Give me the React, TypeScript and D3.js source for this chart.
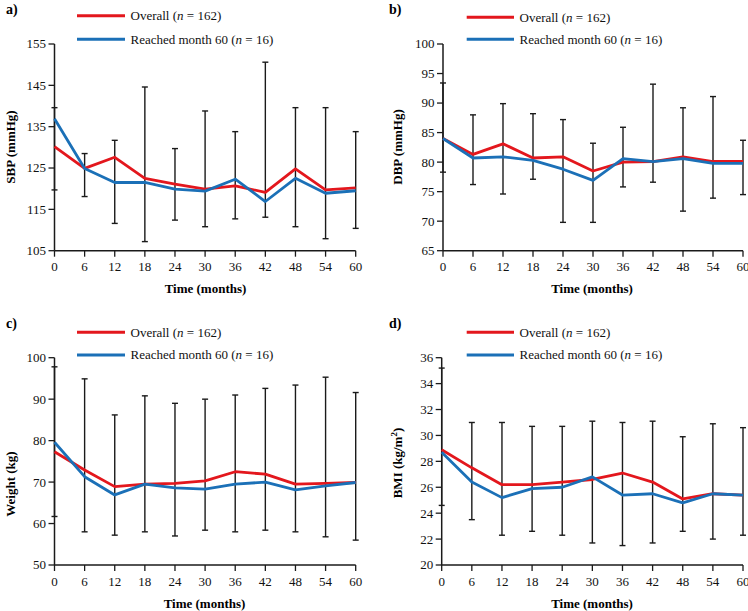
import React from "react";
import * as d3 from "d3";

const months = [0, 6, 12, 18, 24, 30, 36, 42, 48, 54, 60];

// Panel a: SBP
const sbpOverall = [130.2, 124.9, 127.6, 122.5, 121.1, 119.9, 120.7, 119.1, 124.8, 119.7, 120.2];
const sbpReached = [136.9, 124.9, 121.5, 121.5, 119.9, 119.4, 122.3, 116.9, 122.5, 118.9, 119.5];
const sbpHi = [139.6, 128.5, 131.7, 144.6, 129.7, 138.8, 133.8, 150.6, 139.6, 139.6, 133.8];
const sbpLo = [119.7, 118.1, 111.6, 107.2, 112.4, 110.8, 112.7, 113.1, 110.8, 107.9, 110.4];
const sbpTicks = [105, 115, 125, 135, 145, 155];

// Panel b: DBP
const dbpOverall = [84.0, 81.3, 83.1, 80.7, 80.9, 78.5, 80.0, 80.1, 80.9, 80.1, 80.1];
const dbpReached = [84.0, 80.7, 80.9, 80.3, 78.8, 76.9, 80.6, 80.1, 80.6, 79.8, 79.8];
const dbpHi = [93.4, 88.0, 89.9, 88.2, 87.2, 83.2, 85.9, 93.2, 89.2, 91.1, 83.7];
const dbpLo = [78.3, 76.2, 74.6, 77.1, 69.8, 69.8, 75.8, 76.6, 71.7, 73.9, 74.5];
const dbpTicks = [65, 70, 75, 80, 85, 90, 95, 100];

// Panel c: Weight
const wtOverall = [77.3, 72.9, 68.9, 69.5, 69.7, 70.3, 72.5, 71.9, 69.5, 69.7, 69.9];
const wtReached = [79.6, 71.3, 66.9, 69.5, 68.6, 68.3, 69.5, 70.0, 68.1, 69.1, 69.9];
const wtHi = [97.8, 94.9, 86.2, 90.8, 89.0, 90.0, 91.0, 92.6, 93.4, 95.3, 91.6];
const wtLo = [61.7, 58.0, 57.2, 58.0, 57.0, 58.4, 58.0, 58.4, 58.0, 56.8, 56.0];
const wtTicks = [50, 60, 70, 80, 90, 100];

// Panel d: BMI
const bmiOverall = [28.9, 27.5, 26.2, 26.2, 26.4, 26.6, 27.1, 26.4, 25.1, 25.5, 25.4];
const bmiReached = [28.7, 26.4, 25.2, 25.9, 26.0, 26.8, 25.4, 25.5, 24.8, 25.5, 25.4];
const bmiHi = [35.2, 31.0, 31.0, 30.7, 30.7, 31.1, 31.0, 31.1, 29.9, 30.9, 30.6];
const bmiLo = [24.6, 23.5, 22.3, 22.6, 22.3, 21.7, 21.5, 21.7, 22.6, 22.0, 22.3];
const bmiTicks = [20, 22, 24, 26, 28, 30, 32, 34, 36];

const RED = "#e3171d";
const BLUE = "#1b70b7";
const INK = "#1a1a1a";
const FONT = "'Liberation Serif', 'Times New Roman', serif";

type PanelProps = {
  tag: string;
  tagX: number;
  tagY: number;
  x0: number;
  x1: number;
  yTop: number;
  yBot: number;
  domain: [number, number];
  ticks: number[];
  overall: number[];
  reached: number[];
  hi: number[];
  lo: number[];
  yLabel: React.ReactNode;
  yLabelX: number;
  yLabelY: number;
  titleX: number;
  titleY: number;
  legX0: number;
  legX1: number;
  legY1: number;
  legY2: number;
};

function Panel(p: PanelProps) {
  const x = d3.scaleLinear().domain([0, 60]).range([p.x0, p.x1]);
  const y = d3.scaleLinear().domain(p.domain).range([p.yBot, p.yTop]);
  const line = d3
    .line<number>()
    .x((_, i) => x(months[i]))
    .y((v) => y(v));
  return (
    <g fontFamily={FONT}>
      <text x={p.tagX} y={p.tagY} fontSize={14} fontWeight="bold" fill="#000">
        {p.tag}
      </text>
      {/* error bars */}
      {months.map((m, i) => (
        <g key={"e" + m} stroke={INK} strokeWidth={1.4}>
          <line x1={x(m)} x2={x(m)} y1={y(p.hi[i])} y2={y(p.lo[i])} />
          <line x1={x(m) - 3} x2={x(m) + 3} y1={y(p.hi[i])} y2={y(p.hi[i])} />
          <line x1={x(m) - 3} x2={x(m) + 3} y1={y(p.lo[i])} y2={y(p.lo[i])} />
        </g>
      ))}
      {/* axes */}
      <line x1={p.x0} x2={p.x0} y1={p.yTop} y2={p.yBot} stroke={INK} strokeWidth={1.5} />
      <line x1={p.x0} x2={p.x1} y1={p.yBot} y2={p.yBot} stroke={INK} strokeWidth={1.5} />
      {p.ticks.map((t) => (
        <g key={"yt" + t}>
          <line x1={p.x0 - 6} x2={p.x0} y1={y(t)} y2={y(t)} stroke={INK} strokeWidth={1.3} />
          <text x={p.x0 - 8.5} y={y(t)} dy="0.34em" textAnchor="end" fontSize={13} fill="#111">
            {t}
          </text>
        </g>
      ))}
      {months.map((m) => (
        <g key={"xt" + m}>
          <line x1={x(m)} x2={x(m)} y1={p.yBot} y2={p.yBot + 6} stroke={INK} strokeWidth={1.3} />
          <text x={x(m)} y={p.yBot + 20.5} textAnchor="middle" fontSize={13} fill="#111">
            {m}
          </text>
        </g>
      ))}
      {/* series */}
      <path d={line(p.overall) || ""} fill="none" stroke={RED} strokeWidth={2.8} strokeLinejoin="round" />
      <path d={line(p.reached) || ""} fill="none" stroke={BLUE} strokeWidth={2.8} strokeLinejoin="round" />
      {/* titles */}
      <text
        transform={`translate(${p.yLabelX},${p.yLabelY}) rotate(-90)`}
        textAnchor="middle"
        dy="0.34em"
        fontSize={13}
        fontWeight="bold"
        fill="#000"
      >
        {p.yLabel}
      </text>
      <text x={p.titleX} y={p.titleY} dy="0.34em" textAnchor="middle" fontSize={13} fontWeight="bold" fill="#000">
        Time (months)
      </text>
      {/* legend */}
      <line x1={p.legX0} x2={p.legX1} y1={p.legY1} y2={p.legY1} stroke={RED} strokeWidth={3} />
      <line x1={p.legX0} x2={p.legX1} y1={p.legY2} y2={p.legY2} stroke={BLUE} strokeWidth={3} />
      <text x={p.legX1 + 5.5} y={p.legY1} dy="0.34em" fontSize={13} fill="#111">
        Overall (<tspan fontStyle="italic">n</tspan> = 162)
      </text>
      <text x={p.legX1 + 5.5} y={p.legY2} dy="0.34em" fontSize={13} fill="#111">
        Reached month 60 (<tspan fontStyle="italic">n</tspan> = 16)
      </text>
    </g>
  );
}

export default function App() {
  return (
    <svg
      width={748}
      height={611}
      style={{ position: "absolute", left: 0, top: 0, background: "#fff" }}
    >
      <rect width={748} height={611} fill="#fff" />
      <Panel
        tag="a)" tagX={6} tagY={13.5}
        x0={54.5} x1={355.7} yTop={44} yBot={250.7}
        domain={[105, 155]} ticks={sbpTicks}
        overall={sbpOverall} reached={sbpReached} hi={sbpHi} lo={sbpLo}
        yLabel="SBP (mmHg)" yLabelX={10.5} yLabelY={147}
        titleX={205.5} titleY={289}
        legX0={77} legX1={125} legY1={15.7} legY2={39.3}
      />
      <Panel
        tag="b)" tagX={389} tagY={13.5}
        x0={443} x1={743} yTop={44} yBot={250.7}
        domain={[65, 100]} ticks={dbpTicks}
        overall={dbpOverall} reached={dbpReached} hi={dbpHi} lo={dbpLo}
        yLabel="DBP (mmHg)" yLabelX={397.5} yLabelY={147}
        titleX={592} titleY={289}
        legX0={466.7} legX1={514} legY1={17.3} legY2={39.3}
      />
      <Panel
        tag="c)" tagX={6} tagY={327.5}
        x0={54.5} x1={355.7} yTop={357.7} yBot={565}
        domain={[50, 100]} ticks={wtTicks}
        overall={wtOverall} reached={wtReached} hi={wtHi} lo={wtLo}
        yLabel="Weight (kg)" yLabelX={10.5} yLabelY={484}
        titleX={204.5} titleY={603.3}
        legX0={77} legX1={125} legY1={332.3} legY2={355}
      />
      <Panel
        tag="d)" tagX={389} tagY={327.5}
        x0={441.7} x1={743} yTop={357.7} yBot={565}
        domain={[20, 36]} ticks={bmiTicks}
        overall={bmiOverall} reached={bmiReached} hi={bmiHi} lo={bmiLo}
        yLabel={<>BMI (kg/m<tspan baselineShift="super" fontSize={9}>2</tspan>)</>}
        yLabelX={397.5} yLabelY={463}
        titleX={592} titleY={603.3}
        legX0={466.7} legX1={514} legY1={332.3} legY2={355}
      />
    </svg>
  );
}
